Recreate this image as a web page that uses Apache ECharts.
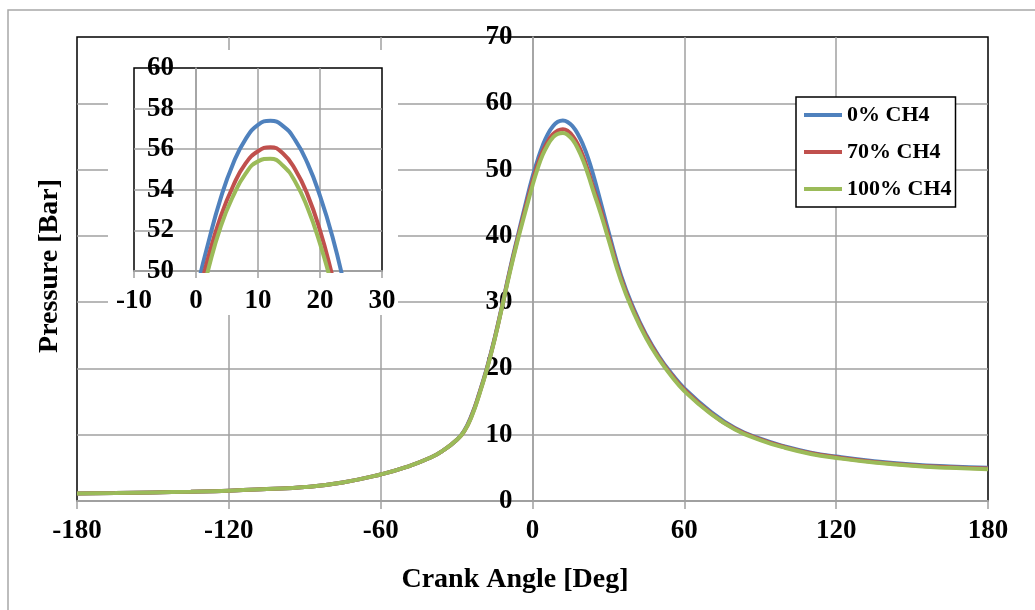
<!DOCTYPE html>
<html>
<head>
<meta charset="utf-8">
<script src="https://cdn.jsdelivr.net/npm/echarts@6/dist/echarts.min.js"></script>
<style>
  html, body { margin: 0; padding: 0; background: #fff; }
  #main { width: 1035px; height: 610px; }
</style>
</head>
<body>
<div id="main"></div>
<script>
// crank angle [deg]
var angle = [-180, -165, -150, -135, -120, -105, -90, -75, -60,
  -50, -40, -35, -30, -27, -24, -21, -18, -15, -12, -9, -6, -3,
  0, 2, 4, 6, 8, 10, 12, 14, 16, 18, 20, 22, 24,
  27, 30, 35, 40, 45, 50, 55, 60,
  70, 80, 90, 100, 110, 120,
  135, 150, 165, 180];

// pressure [bar]
var ch4_0 = [1.15, 1.2, 1.3, 1.4, 1.55, 1.8, 2.1, 2.8, 4.0,
  5.1, 6.6, 7.7, 9.2, 10.6, 13.0, 16.3, 20.1, 24.5, 29.5, 34.8, 39.7, 44.4,
  48.9, 51.4, 53.6, 55.3, 56.5, 57.2, 57.4, 57.15, 56.45, 55.3, 53.7, 51.7, 49.2,
  45.0, 40.7, 34.0, 29.0, 25.0, 21.8, 19.2, 17.0,
  13.6, 11.0, 9.4, 8.2, 7.3, 6.7,
  6.0, 5.5, 5.2, 5.0];
var ch4_70 = [1.15, 1.2, 1.3, 1.4, 1.55, 1.8, 2.1, 2.8, 4.0,
  5.1, 6.6, 7.7, 9.2, 10.5, 12.9, 16.2, 20.0, 24.4, 29.4, 34.6, 39.4, 43.9,
  48.2, 50.7, 52.7, 54.2, 55.3, 55.9, 56.1, 55.8, 55.0, 53.75, 52.0, 49.75, 47.3,
  43.9, 40.0, 33.6, 28.7, 24.8, 21.6, 19.0, 16.8,
  13.4, 10.9, 9.3, 8.1, 7.2, 6.6,
  5.9, 5.4, 5.1, 4.9];
var ch4_100 = [1.15, 1.2, 1.3, 1.4, 1.55, 1.8, 2.1, 2.8, 4.0,
  5.1, 6.6, 7.7, 9.2, 10.5, 12.8, 16.1, 19.9, 24.3, 29.3, 34.4, 39.1, 43.4,
  47.6, 50.1, 52.2, 53.7, 54.8, 55.4, 55.53, 55.2, 54.4, 53.1, 51.35, 49.2, 46.8,
  43.3, 39.5, 33.2, 28.4, 24.5, 21.4, 18.8, 16.6,
  13.3, 10.8, 9.2, 8.0, 7.1, 6.5,
  5.8, 5.3, 5.0, 4.8];

var seriesNames = ['0% CH4', '70% CH4', '100% CH4'];
var seriesData = [ch4_0, ch4_70, ch4_100];
var colors = ['#4F81BD', '#C0504D', '#9BBB59'];

var FONT = 'Liberation Serif';
var gridColor = '#a0a0a0';

function pairs(ys) {
  var out = [];
  for (var i = 0; i < angle.length; i++) out.push([angle[i], ys[i]]);
  return out;
}

function labelStyle(margin) {
  return { color: '#000', fontFamily: FONT, fontWeight: 'bold', fontSize: 27, margin: margin };
}

var series = [];
for (var i = 0; i < seriesNames.length; i++) {
  // main plot
  series.push({
    name: seriesNames[i], type: 'line', xAxisIndex: 0, yAxisIndex: 0,
    data: pairs(seriesData[i]), smooth: true, showSymbol: false, z: 2,
    lineStyle: { width: 4, color: colors[i] }
  });
  // zoomed inset
  series.push({
    name: seriesNames[i], type: 'line', xAxisIndex: 1, yAxisIndex: 1,
    data: pairs(seriesData[i]), smooth: true, showSymbol: false, clip: true, z: 7,
    lineStyle: { width: 4, color: colors[i] }
  });
}

var myChart = echarts.init(document.getElementById('main'));
var option = {
  backgroundColor: '#fff',
  animation: false,
  color: colors,
  grid: [
    { left: 77, top: 37, right: 47, bottom: 109, show: true, borderColor: '#000', borderWidth: 1.5, z: 0, outerBoundsMode: 'none' },
    { left: 134, top: 68, width: 248, height: 203, show: true, borderColor: '#000', borderWidth: 1.5, z: 5, outerBoundsMode: 'none' }
  ],
  xAxis: [
    {
      type: 'value', gridIndex: 0, min: -180, max: 180, interval: 60, z: 1,
      axisLine: { show: true, onZero: false, lineStyle: { color: gridColor, width: 2 } },
      axisTick: { show: true, length: 8, lineStyle: { color: gridColor, width: 1.5 } },
      axisLabel: labelStyle(17),
      splitLine: { show: true, showMinLine: false, showMaxLine: false, lineStyle: { color: gridColor, width: 1.5 } }
    },
    {
      type: 'value', gridIndex: 1, min: -10, max: 30, interval: 10, z: 6,
      axisLine: { show: true, onZero: false, lineStyle: { color: gridColor, width: 2 } },
      axisTick: { show: true, length: 7, lineStyle: { color: gridColor, width: 1.5 } },
      axisLabel: labelStyle(17),
      splitLine: { show: true, showMinLine: false, showMaxLine: false, lineStyle: { color: gridColor, width: 1.5 } }
    }
  ],
  yAxis: [
    {
      // sits on x = 0
      type: 'value', gridIndex: 0, min: 0, max: 70, interval: 10, z: 1, offset: -455.5,
      axisLine: { show: true, onZero: true, lineStyle: { color: gridColor, width: 1.5 } },
      axisTick: { show: false },
      axisLabel: labelStyle(20),
      splitLine: { show: true, showMinLine: false, showMaxLine: false, lineStyle: { color: gridColor, width: 1.5 } }
    },
    {
      type: 'value', gridIndex: 1, min: 50, max: 60, interval: 2, z: 6, offset: -62,
      axisLine: { show: true, onZero: true, lineStyle: { color: gridColor, width: 1.5 } },
      axisTick: { show: false },
      axisLabel: labelStyle(22),
      splitLine: { show: true, showMinLine: false, showMaxLine: false, lineStyle: { color: gridColor, width: 1.5 } }
    }
  ],
  legend: {
    data: seriesNames,
    orient: 'vertical',
    left: 796, top: 97,
    padding: [7, 4, 7, 8],
    itemGap: 15,
    itemWidth: 38, itemHeight: 4,
    icon: 'rect',
    backgroundColor: '#fff',
    borderColor: '#000', borderWidth: 1.5, borderRadius: 0,
    textStyle: { color: '#000', fontFamily: FONT, fontWeight: 'bold', fontSize: 22 },
    z: 8
  },
  graphic: [
    { type: 'rect', z: 0, silent: true,
      shape: { x: 8, y: 10, width: 1060, height: 640 },
      style: { fill: 'none', stroke: '#a8a8a8', lineWidth: 1.5 } },
    // white panel behind the inset
    { type: 'rect', z: 2, silent: true,
      shape: { x: 108, y: 50, width: 290, height: 265 },
      style: { fill: '#fff' } },
    { type: 'text', z: 3, x: 515, y: 580, silent: true,
      style: { text: 'Crank Angle [Deg]', fill: '#000', font: 'bold 28px "Liberation Serif"', align: 'center', verticalAlign: 'middle' } },
    { type: 'text', z: 3, x: 50, y: 266, rotation: Math.PI / 2, silent: true,
      style: { text: 'Pressure [Bar]', fill: '#000', font: 'bold 28px "Liberation Serif"', align: 'center', verticalAlign: 'middle' } }
  ],
  series: series
};
myChart.setOption(option);
</script>
</body>
</html>
